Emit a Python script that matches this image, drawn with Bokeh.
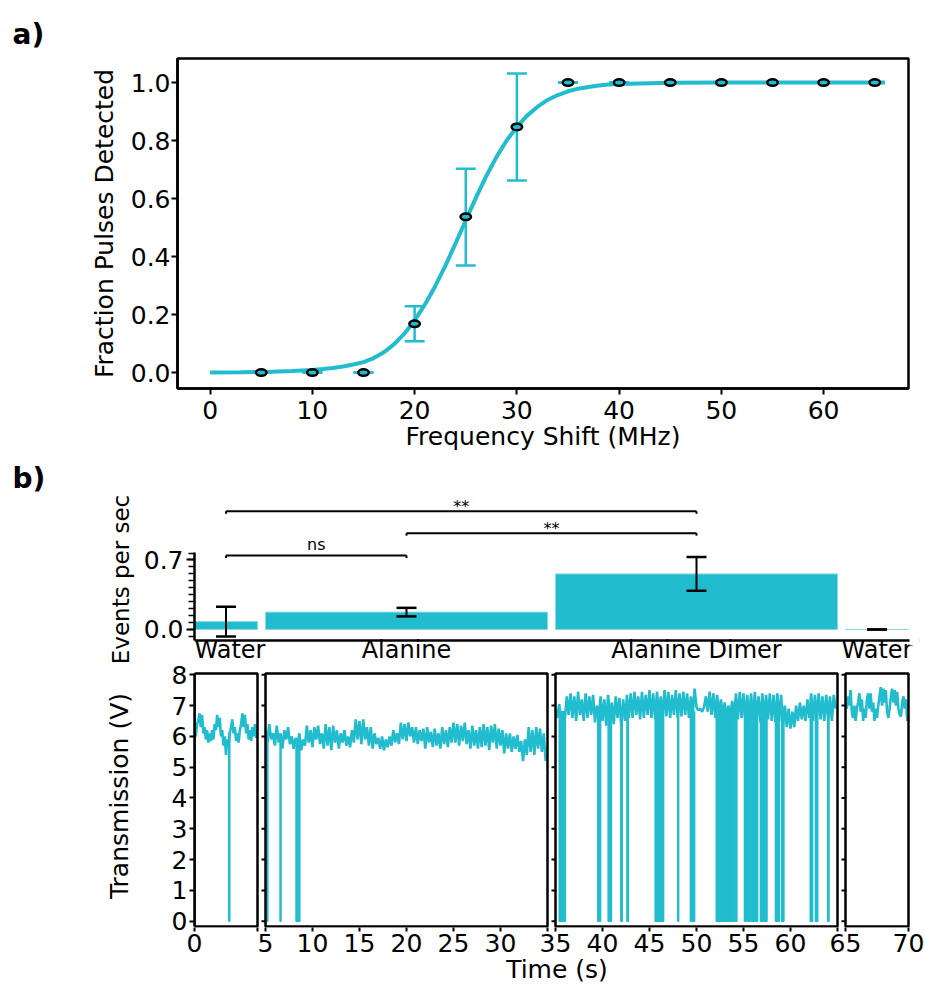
import numpy as np
from bokeh.plotting import figure
from bokeh.layouts import column
from bokeh.models import (Range1d, FixedTicker, SingleIntervalTicker, PrintfTickFormatter,
                          Whisker, TeeHead, Title, Span, ColumnDataSource)
from bokeh.core.properties import value
from bokeh.embed import file_html
from bokeh.resources import INLINE

# ---------------- data: panel a ----------------
freq_shift = [5, 10, 15, 20, 25, 30, 35, 40, 45, 50, 55, 60, 65]
frac_detected = [0.0, 0.0, 0.0, 0.168, 0.537, 0.847, 1.0, 1.0, 1.0, 1.0, 1.0, 1.0, 1.0]
frac_lower = [0.0, 0.0, 0.0, 0.108, 0.369, 0.662, 1.0, 1.0, 1.0, 1.0, 1.0, 1.0, 1.0]
frac_upper = [0.0, 0.0, 0.0, 0.229, 0.703, 1.031, 1.0, 1.0, 1.0, 1.0, 1.0, 1.0, 1.0]
fit_x = [0, 3, 6, 8, 10, 11, 12, 13, 14, 15, 16, 17, 18, 19, 20, 21, 22, 23, 24, 25, 26, 27, 28,
         29, 30, 31, 32, 33, 34, 35, 36, 37, 38, 39, 40, 42, 45, 50, 55, 60, 66]
fit_y = [0.0004, 0.001, 0.0025, 0.005, 0.009, 0.012, 0.016, 0.021, 0.028, 0.036, 0.05, 0.07,
         0.098, 0.134, 0.18, 0.234, 0.297, 0.368, 0.445, 0.525, 0.603, 0.677, 0.743, 0.8, 0.847,
         0.886, 0.916, 0.94, 0.957, 0.97, 0.979, 0.985, 0.99, 0.993, 0.995, 0.997, 0.999, 1.0,
         1.0, 1.0, 1.0]

# ---------------- data: panel b ----------------
samples = ["Water", "Alanine", "Alanine Dimer", "Water"]
seg_start = [0, 5, 35, 65]
seg_end = [5, 35, 65, 70]
rate_mean = [0.08, 0.175, 0.56, 0.0]
rate_err = [0.15, 0.043, 0.17, 0.0]
comp_a = [0, 1, 0]
comp_b = [1, 2, 2]
comp_label = ["ns", "**", "**"]

trace_step = [0.1, 0.2, 0.2, 0.1]
trace_water1 = [6.2, 6.0, 6.4, 6.5, 6.75, 6.3, 6.7, 6.1, 6.3, 5.9,
                6.2, 5.8, 6.1, 5.85, 6.2, 5.9, 6.4, 6.2, 6.7, 6.3,
                6.6, 6.0, 6.2, 5.7, 6.0, 5.4, 5.9, 5.7, 6.1, 6.3,
                6.55, 6.1, 6.3, 5.85, 6.1, 5.8, 6.2, 6.4, 6.75, 6.3,
                6.7, 6.1, 6.4, 5.9, 6.2, 5.85, 6.3, 6.0, 6.4, 5.95]
trace_alanine = [6.2, 5.8, 6.4, 5.9, 6.1, 5.7, 6.35, 5.8, 6.1, 5.6,
                 6.2, 5.9, 6.3, 5.75, 6.0, 5.6, 5.95, 5.7, 6.1, 5.55,
                 5.9, 5.7, 6.35, 5.8, 6.2, 5.65, 6.3, 5.9, 6.35, 5.75,
                 6.1, 5.6, 6.4, 5.7, 6.3, 5.55, 6.35, 5.8, 6.2, 5.6,
                 6.1, 5.8, 6.2, 5.7, 6.0, 5.65, 6.2, 5.8, 6.55, 5.9,
                 6.5, 5.75, 6.55, 5.9, 6.3, 5.7, 6.3, 5.6, 6.1, 5.75,
                 5.95, 5.6, 6.0, 5.55, 5.9, 5.65, 6.0, 5.7, 6.2, 5.8,
                 6.1, 5.75, 6.45, 5.9, 6.4, 5.85, 6.45, 6.0, 6.3, 5.8,
                 6.3, 5.75, 6.2, 5.85, 6.25, 5.6, 6.3, 5.8, 6.15, 5.65,
                 6.25, 5.7, 6.1, 5.6, 6.3, 5.75, 6.2, 5.65, 6.3, 5.8,
                 6.45, 5.8, 6.4, 5.7, 6.35, 5.85, 6.45, 5.75, 6.2, 5.6,
                 6.35, 5.7, 6.2, 5.6, 6.3, 5.65, 6.4, 5.7, 6.3, 5.55,
                 6.35, 5.8, 6.4, 5.6, 6.25, 5.7, 6.2, 5.45, 6.1, 5.6,
                 6.1, 5.5, 6.0, 5.6, 6.05, 5.5, 5.85, 5.2, 5.9, 5.4,
                 6.3, 5.5, 6.2, 5.4, 6.3, 5.6, 6.25, 5.5, 6.1, 5.2]
trace_dimer = [6.9, 6.6, 7.05, 6.5, 6.8, 6.6, 7.3, 6.7, 7.4, 6.6,
               7.3, 6.5, 7.45, 6.7, 7.2, 6.5, 7.4, 6.6, 7.3, 6.7,
               7.35, 6.45, 7.0, 6.6, 7.3, 6.5, 7.2, 6.35, 7.35, 6.6,
               7.1, 6.4, 7.3, 6.6, 7.25, 6.3, 7.2, 6.5, 7.35, 6.6,
               7.4, 6.6, 7.45, 6.7, 7.3, 6.55, 7.45, 6.6, 7.35, 6.7,
               7.5, 6.6, 7.4, 6.55, 7.45, 6.7, 7.3, 6.6, 7.5, 6.65,
               7.45, 6.6, 7.35, 6.7, 7.5, 6.6, 7.4, 6.65, 7.45, 6.7,
               7.4, 6.6, 7.3, 6.7, 7.55, 6.95, 6.85, 6.9, 6.8, 6.95,
               7.3, 6.8, 7.45, 6.7, 7.4, 6.6, 7.35, 6.7, 7.2, 6.65,
               7.1, 6.6, 7.0, 6.7, 7.15, 6.6, 7.4, 6.55, 7.45, 6.6,
               7.4, 6.5, 7.35, 6.45, 7.4, 6.5, 7.45, 6.55, 7.3, 6.45,
               7.4, 6.5, 7.35, 6.55, 7.4, 6.5, 7.35, 6.45, 7.4, 6.5,
               7.35, 6.4, 7.0, 6.3, 6.9, 6.25, 6.8, 6.3, 7.0, 6.5,
               7.1, 6.55, 7.0, 6.5, 7.2, 6.6, 7.4, 6.5, 7.35, 6.6,
               7.4, 6.55, 7.3, 6.5, 7.35, 6.6, 7.3, 6.5, 7.35, 6.9]
trace_water2 = [7.0, 6.9, 7.3, 7.0, 7.5, 6.8, 6.6, 7.0, 6.5, 6.9,
                7.1, 7.4, 6.8, 7.2, 6.5, 6.9, 6.6, 7.2, 7.4, 6.9,
                7.4, 6.8, 7.1, 6.5, 6.9, 6.6, 7.0, 7.3, 7.6, 7.0,
                7.55, 7.1, 7.5, 6.8, 6.6, 6.9, 7.3, 7.55, 7.1, 7.5,
                7.0, 7.45, 6.9, 6.7, 6.65, 7.1, 7.3, 6.9, 7.2, 6.5]
traces = [trace_water1, trace_alanine, trace_dimer, trace_water2]
seg_level = [6.1, 5.9, 6.8, 7.0]
dip_starts = [[2.72],
              [5.15, 6.55, 8.25],
              [35.4, 39.5, 40.6, 41.95, 42.6, 45.6, 46.05, 48.0, 49.35, 52.1, 52.95, 53.55,
               54.1, 55.1, 55.45, 55.8, 56.25, 56.8, 58.4, 59.05, 62.1, 62.65, 63.95],
              []]
dip_ends = [[2.80],
            [5.25, 6.65, 8.65],
            [36.05, 39.8, 40.95, 42.1, 42.75, 46.0, 46.5, 48.1, 49.8, 52.9, 53.5, 54.0,
             54.3, 55.3, 55.7, 56.15, 56.5, 57.5, 58.8, 59.3, 62.35, 62.9, 64.1],
            []]

# ---------------- style / layout ----------------
CYAN = "#22BCCF"
BAR_EDGE = "#8FD9E3"
FONT = "DejaVu Sans"
TICK_FS = "25px"
LABEL_FS = "25px"
NAME_FS = "24px"
FRAME_W = 725             # frame width of the two lower plots (px = data units)
panel_left = [0, 71, 361, 651]
panel_right = [63, 353, 643, 714]
BOX_BOTTOM, BOX_TOP = -0.17, 8.04
BAR_BASE = -0.11          # bar-chart baseline line
NAME_Y = -0.2115          # vertical middle of the sample names under the bars
bracket_level = [0.745, 0.97, 1.19]
bracket_offset = {"ns": -11, "**": -5}


def style_axis(ax, tick_out):
    ax.major_label_text_font = FONT
    ax.major_label_text_font_size = TICK_FS
    ax.major_label_text_color = "black"
    ax.axis_label_text_font = FONT
    ax.axis_label_text_font_size = LABEL_FS
    ax.axis_label_text_font_style = "normal"
    ax.axis_label_text_color = "black"
    ax.axis_line_color = "black"
    ax.axis_line_width = 2.5
    ax.major_tick_line_color = "black"
    ax.major_tick_line_width = 2
    ax.major_tick_in = 0
    ax.major_tick_out = tick_out
    ax.minor_tick_line_color = None


def panel_title(text, offset, standoff):
    return Title(text=text, align="left", offset=offset, standoff=standoff,
                 vertical_align="bottom", text_font=FONT, text_font_size="28px",
                 text_font_style="bold", text_color="black")


# ================= panel a =================
pa = figure(frame_width=731, frame_height=330, min_border_left=177, min_border_right=17,
            min_border_top=58, min_border_bottom=71, frame_align=False,
            title=panel_title("a)", -165, 15),
            x_range=Range1d(-3.19, 68.3), y_range=Range1d(-0.055, 1.083),
            output_backend="svg", toolbar_location=None)
pa.grid.visible = False
pa.outline_line_color = "black"
pa.outline_line_width = 2.5
pa.outline_line_alpha = 1.0
for ax in pa.axis:
    style_axis(ax, 6)
pa.xaxis.ticker = SingleIntervalTicker(interval=10, num_minor_ticks=0)
pa.yaxis.ticker = SingleIntervalTicker(interval=0.2, num_minor_ticks=0)
pa.yaxis.formatter = PrintfTickFormatter(format="%.1f")
pa.xaxis.axis_label = "Frequency Shift (MHz)"
pa.yaxis.axis_label = "Fraction Pulses Detected"
pa.xaxis.major_label_standoff = 6
pa.xaxis.axis_label_standoff = 0
pa.yaxis.major_label_standoff = 1
pa.yaxis.axis_label_standoff = 9

src_a = ColumnDataSource(dict(x=freq_shift, y=frac_detected, lo=frac_lower, hi=frac_upper))
pa.add_layout(Whisker(source=src_a, base="x", lower="lo", upper="hi",
                      line_color=CYAN, line_width=2.5,
                      upper_head=TeeHead(size=20, line_color=CYAN, line_width=2.5),
                      lower_head=TeeHead(size=20, line_color=CYAN, line_width=2.5)))
pa.line(fit_x, fit_y, line_color=CYAN, line_width=4)
pa.ellipse(x="x", y="y", width=10.5, height=6.5, width_units="screen", height_units="screen",
           source=src_a, fill_color=CYAN, line_color="black", line_width=2.5)

# shared ranges for panel b
x_main = Range1d(0, FRAME_W)
seg_ranges = {}
for i in range(4):
    t0, t1 = seg_start[i], seg_end[i]
    s = (t1 - t0) / (panel_right[i] - panel_left[i])
    seg_ranges[f"seg{i}"] = Range1d(t0 - panel_left[i] * s, t0 + (FRAME_W - panel_left[i]) * s)
centers_u = [(l + r) / 2 for l, r in zip(panel_left, panel_right)]

# ================= panel b: bars =================
pb = figure(frame_width=FRAME_W, frame_height=170, min_border_left=194, min_border_right=6,
            min_border_top=35, min_border_bottom=0, frame_align=False,
            title=panel_title("b)", -182, 0), x_axis_location=None,
            x_range=x_main, y_range=Range1d(-0.3525, 1.3595),
            output_backend="svg", toolbar_location=None)
pb.extra_x_ranges = dict(seg_ranges)
pb.grid.visible = False
pb.outline_line_color = None
style_axis(pb.yaxis[0], 8)
pb.yaxis.ticker = SingleIntervalTicker(interval=0.7, num_minor_ticks=10)
pb.yaxis.formatter = PrintfTickFormatter(format="%.1f")
pb.yaxis.minor_tick_line_color = "black"
pb.yaxis.minor_tick_line_width = 1.5
pb.yaxis.minor_tick_in = 0
pb.yaxis.minor_tick_out = 6
pb.yaxis.major_label_standoff = 3
pb.yaxis.bounds = (BAR_BASE, 0.78)
pb.yaxis.axis_label = "Events per sec"
pb.yaxis.axis_label_text_font_size = "23px"
pb.yaxis.axis_label_standoff = 7
pb.add_layout(Span(location=BAR_BASE, dimension="width", line_color="black", line_width=2.5))
# baseline stops at the right end of the last panel: mask the spare strip
pb.quad(left=[panel_right[-1] + 1], right=[FRAME_W], bottom=[BAR_BASE - 0.05],
        top=[BAR_BASE + 0.05], fill_color="white", line_color=None, level="overlay")

for i in range(4):
    name = f"seg{i}"
    pb.quad(left=[seg_start[i]], right=[seg_end[i]], bottom=[0], top=[rate_mean[i]],
            x_range_name=name, fill_color=CYAN, line_color=BAR_EDGE, line_width=1)
    mid = (seg_start[i] + seg_end[i]) / 2
    wsrc = ColumnDataSource(dict(base=[mid], lower=[rate_mean[i] - rate_err[i]],
                                 upper=[rate_mean[i] + rate_err[i]]))
    pb.add_layout(Whisker(source=wsrc, base="base", lower="lower", upper="upper",
                          x_range_name=name, level="annotation",
                          line_color="black", line_width=2,
                          upper_head=TeeHead(size=20, line_color="black", line_width=2.5),
                          lower_head=TeeHead(size=20, line_color="black", line_width=2.5)))

name_src = ColumnDataSource(dict(x=[panel_left[0]] + centers_u[1:], y=[NAME_Y] * 4,
                                 t=samples, al=["left", "center", "center", "center"]))
pb.text(x="x", y="y", text="t", text_align="al", source=name_src, text_font=value(FONT),
        text_font_size=value(NAME_FS), text_baseline="middle", text_color="black")

bx0 = [centers_u[a] for a in comp_a]
bx1 = [centers_u[b] for b in comp_b]
pb.segment(x0=bx0, x1=bx1, y0=bracket_level, y1=bracket_level, line_color="black", line_width=2)
pb.segment(x0=bx0 + bx1, x1=bx0 + bx1, y0=bracket_level * 2,
           y1=[v - 0.025 for v in bracket_level * 2], line_color="black", line_width=2)
txt_src = ColumnDataSource(dict(x=[(a + b) / 2 for a, b in zip(bx0, bx1)], y=bracket_level,
                                t=comp_label, off=[bracket_offset[c] for c in comp_label]))
pb.text(x="x", y="y", text="t", y_offset="off", source=txt_src, text_font=value(FONT),
        text_font_size=value("16px"), text_align="center", text_baseline="middle",
        text_color="black")

# ================= panel b: traces =================
pc = figure(frame_width=FRAME_W, frame_height=263, min_border_left=194, min_border_right=6,
            min_border_top=0, min_border_bottom=65, frame_align=False, title=None,
            x_range=x_main, y_range=Range1d(-0.205, 8.334),
            output_backend="svg", toolbar_location=None)
pc.extra_x_ranges = dict(seg_ranges)
pc.grid.visible = False
pc.outline_line_color = None
for ax in pc.axis:
    style_axis(ax, 5)
pc.yaxis.ticker = SingleIntervalTicker(interval=1, num_minor_ticks=0)
pc.yaxis.bounds = (BOX_BOTTOM, BOX_TOP)
pc.yaxis.axis_label = "Transmission (V)"
pc.yaxis.major_label_standoff = 2
pc.yaxis.axis_label_standoff = 35

tick_u = []
overrides = {}
for i in range(4):
    t0, t1 = seg_start[i], seg_end[i]
    for t in range(t0, t1 + 1, 5):
        u = int(round(panel_left[i] + (t - t0) / (t1 - t0) * (panel_right[i] - panel_left[i])))
        tick_u.append(u)
        overrides[u] = "" if (t == t1 and i < 3) else str(t)
pc.xaxis.ticker = FixedTicker(ticks=tick_u, minor_ticks=[])
pc.xaxis.major_label_overrides = overrides
pc.xaxis.axis_line_color = None
pc.xaxis.major_tick_out = 4
pc.xaxis.axis_label = "Time (s)"
pc.xaxis.major_label_standoff = 2
pc.xaxis.axis_label_standoff = 0

for i in range(4):
    name = f"seg{i}"
    vals = traces[i]
    t = seg_start[i] + trace_step[i] * np.arange(len(vals))
    if dip_starts[i]:
        pc.quad(left=dip_starts[i], right=dip_ends[i], bottom=0, top=seg_level[i],
                x_range_name=name, fill_color=CYAN, line_color=CYAN, line_width=1.5)
    pc.line(t, vals, x_range_name=name, line_color=CYAN, line_width=2.6)
    pc.quad(left=[seg_start[i]], right=[seg_end[i]], bottom=[BOX_BOTTOM], top=[BOX_TOP],
            x_range_name=name, fill_color=None, line_color="black", line_width=2.5)

vticks = list(range(0, 9))
for i in range(1, 4):
    pc.segment(x0=[panel_left[i] - 4] * len(vticks), x1=[panel_left[i]] * len(vticks),
               y0=vticks, y1=vticks, line_color="black", line_width=2)

layout = column(pa, pb, pc)
open("out.html", "w").write(file_html(layout, INLINE))
